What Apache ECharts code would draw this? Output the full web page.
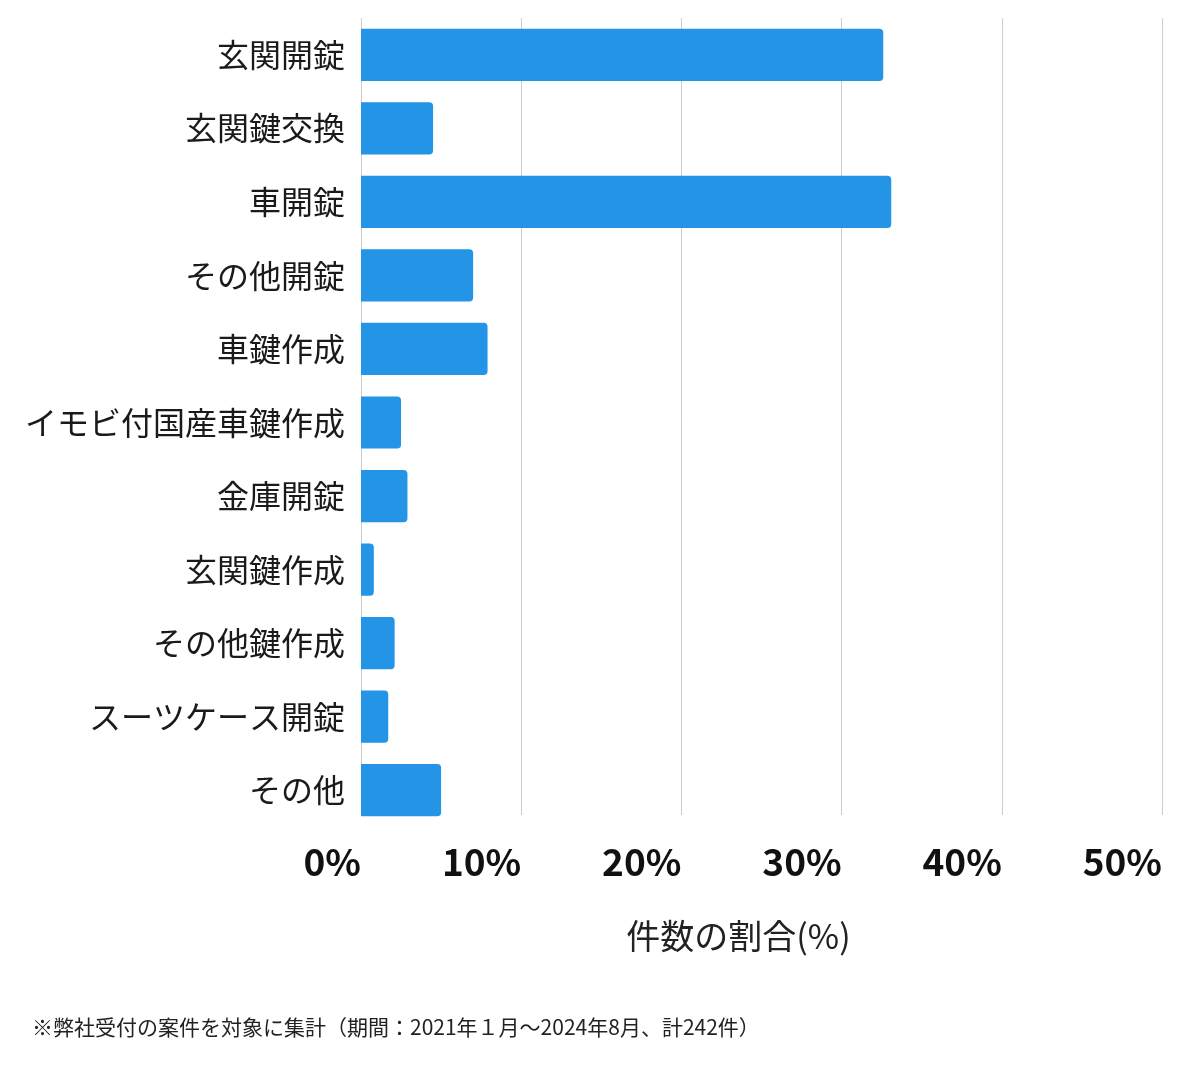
<!DOCTYPE html>
<html>
<head>
<meta charset="utf-8">
<script src="https://cdn.jsdelivr.net/npm/echarts@6/dist/echarts.min.js"></script>
<style>
  html, body { margin: 0; padding: 0; background: #fff; }
  #chart { width: 1200px; height: 1069px; }
</style>
</head>
<body>
<div id="chart"></div>
<script>
// 作業種別
var categories = [
  "玄関開錠", "玄関鍵交換", "車開錠", "その他開錠", "車鍵作成",
  "イモビ付国産車鍵作成", "金庫開錠", "玄関鍵作成", "その他鍵作成",
  "スーツケース開錠", "その他"
];
// 件数の割合(%)
var shares = [32.6, 4.5, 33.1, 7.0, 7.9, 2.5, 2.9, 0.8, 2.1, 1.7, 5.0];
var axisTicks = [0, 10, 20, 30, 40, 50];
var note = "※弊社受付の案件を対象に集計（期間：2021年１月〜2024年8月、計242件）";

var font = '"Noto Sans CJK JP", "Noto Sans", sans-serif';
var myChart = echarts.init(document.getElementById("chart"));

var xMin = axisTicks[0];
var xMax = axisTicks[axisTicks.length - 1];

var option = {
  animation: false,
  // grid 0: bars, grid 1: grid lines + ticks
  grid: [
    { left: 361, right: 38, top: 18, bottom: 242 },
    { left: 361, right: 38, top: 18, bottom: 254 }
  ],
  xAxis: [
    {
      gridIndex: 0,
      type: "value",
      min: xMin,
      max: xMax,
      interval: 10,
      show: false
    },
    {
      gridIndex: 1,
      type: "value",
      min: xMin,
      max: xMax,
      interval: 10,
      axisLine: { show: false },
      axisTick: { show: false },
      splitLine: { lineStyle: { color: "#cccccc", width: 1 } },
      axisLabel: {
        formatter: "{value}%",
        align: "right",
        margin: 28,
        fontFamily: font,
        fontSize: 37,
        fontWeight: "bold",
        color: "#111"
      },
      name: "件数の割合(%)",
      nameLocation: "middle",
      nameGap: 104,
      nameTextStyle: {
        fontFamily: font,
        fontSize: 34,
        color: "#222",
        padding: [0, 46, 0, 0]
      }
    }
  ],
  yAxis: [
    {
      gridIndex: 0,
      type: "category",
      inverse: true,
      data: categories,
      axisLine: { show: false },
      axisTick: { show: false },
      axisLabel: {
        margin: 16,
        fontFamily: font,
        fontSize: 32,
        color: "#1a1a1a",
        padding: [4, 0, 0, 0]
      }
    },
    {
      gridIndex: 1,
      type: "category",
      data: categories,
      show: false
    }
  ],
  series: [
    {
      type: "bar",
      xAxisIndex: 0,
      yAxisIndex: 0,
      data: shares,
      barCategoryGap: "29%",
      z: 3,
      itemStyle: { color: "#2394e6", borderRadius: [0, 4, 4, 0] }
    }
  ],
  graphic: [
    {
      type: "text",
      left: 32,
      top: 1017,
      style: { text: note, fontFamily: font, fontSize: 21, fill: "#222" }
    }
  ]
};

myChart.setOption(option);
</script>
</body>
</html>
